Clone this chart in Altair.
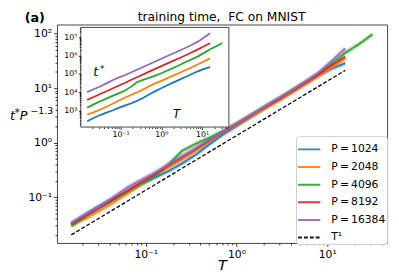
import altair as alt
import pandas as pd

# ---------------- data ----------------
T = [0.0151, 0.0224, 0.0316, 0.0447, 0.0631, 0.0891, 0.126, 0.178, 0.251, 0.355,
     0.501, 0.708, 1.0, 1.41, 2.0, 2.82, 3.98, 5.62, 7.94, 11.2, 15.8]
T_green_extra = [22.4, 31.6]

P_values = [1024, 2048, 4096, 8192, 16384]
labels = ["P\u2009=\u20091024", "P\u2009=\u20092048", "P\u2009=\u20094096",
          "P\u2009=\u20098192", "P\u2009=\u200916384"]
colors = ["#1f77b4", "#ff7f0e", "#2ca02c", "#d62728", "#9467bd"]

# log10 of  t* P^-1.3  (main panel), one value per T
logy_1024 = [-1.49, -1.30, -1.15, -1.02, -0.90, -0.76, -0.64, -0.52, -0.38, -0.22,
             -0.03, 0.15, 0.31, 0.47, 0.63, 0.78, 0.93, 1.08, 1.23, 1.36, 1.46]
logy_2048 = [-1.51, -1.38, -1.24, -1.09, -0.93, -0.76, -0.60, -0.45, -0.31, -0.15,
             0.03, 0.18, 0.32, 0.47, 0.62, 0.76, 0.91, 1.06, 1.22, 1.38, 1.55]
logy_4096 = [-1.53, -1.34, -1.18, -1.04, -0.89, -0.75, -0.61, -0.40, -0.15, -0.02,
             0.09, 0.21, 0.34, 0.49, 0.64, 0.79, 0.95, 1.10, 1.26, 1.45, 1.65, 1.81, 1.99]
logy_8192 = [-1.50, -1.33, -1.18, -1.03, -0.88, -0.73, -0.58, -0.42, -0.27, -0.12,
             0.04, 0.19, 0.34, 0.49, 0.64, 0.78, 0.93, 1.09, 1.25, 1.42, 1.58]
logy_16384 = [-1.47, -1.30, -1.16, -0.99, -0.82, -0.68, -0.55, -0.40, -0.25, -0.10,
              0.05, 0.20, 0.35, 0.50, 0.65, 0.80, 0.95, 1.11, 1.28, 1.50, 1.73]
series_logy = [logy_1024, logy_2048, logy_4096, logy_8192, logy_16384]

exponent = 1.3
dash_label = "T\u00b9"
dash_T = [0.0151, 15.8]
dash_y = [0.0204, 21.3]

# ---------------- tables ----------------
main_rows, inset_rows = [], []
for P, lab, col, ly in zip(P_values, labels, colors, series_logy):
    ts = T + (T_green_extra if len(ly) > len(T) else [])
    for t, v in zip(ts, ly):
        y = 10 ** v
        main_rows.append({"T": t, "y": y, "label": lab, "hex": col})
        inset_rows.append({"T": t, "tstar": y * P ** exponent, "label": lab, "hex": col})
main_df = pd.DataFrame(main_rows)
inset_df = pd.DataFrame(inset_rows)
dash_df = pd.DataFrame({"T": dash_T, "y": dash_y, "label": [dash_label] * 2})

# ---------------- axis helpers ----------------
LOG = "(log(datum.value)/LN10)"
MAJOR = f"abs({LOG} - round({LOG})) < 1e-6"
SUP = {-1: "\u207b\u00b9", 0: "\u2070", 1: "\u00b9", 2: "\u00b2", 3: "\u00b3",
       4: "\u2074", 5: "\u2075", 6: "\u2076", 7: "\u2077"}
lab_expr = ""
for e, s in SUP.items():
    lab_expr += f"round({LOG}) == {e} ? '10{s}' : "
lab_expr = f"{MAJOR} ? ({lab_expr}'') : ''"


def log_values(lo, hi):
    vals = []
    for d in range(-3, 9):
        for m in range(1, 10):
            v = float(f"{m}e{d}")
            if lo <= v <= hi:
                vals.append(v)
    return vals


def make_axis(values, fs, big, small, pad, orient, offset=0, z=0):
    return alt.Axis(values=values, labelExpr=lab_expr, title=None, domain=False, grid=False,
                    orient=orient, offset=offset, zindex=z,
                    tickSize={"condition": {"test": MAJOR, "value": big}, "value": small},
                    tickColor="black", tickWidth=0.8, labelColor="black",
                    labelFont="DejaVu Sans", labelFontSize=fs, labelPadding=pad,
                    labelFlush=False, labelOverlap=False, labelBound=False)


W, H = 337, 223
x_dom = [0.0105, 45.7]
y_dom = [0.0145, 148]
xs = alt.Scale(type="log", domain=x_dom, nice=False)
ys = alt.Scale(type="log", domain=y_dom, nice=False)
ax_x = make_axis(log_values(*x_dom), 11, 3.5, 2, 2, "bottom")
ax_y = make_axis(log_values(*y_dom), 11, 3.5, 2, 2, "left")

legend = alt.Legend(orient="none", legendX=244, legendY=114, title=None,
                    symbolType="stroke", symbolSize=520, symbolStrokeWidth=2,
                    labelFont="DejaVu Sans", labelFontSize=11, labelColor="black",
                    labelOffset=10, rowPadding=-2.3, padding=1,
                    strokeColor="#cccccc", fillColor="white", cornerRadius=3)
dom_all = labels + [dash_label]
color_scale = alt.Scale(domain=dom_all, range=colors + ["black"])
dash_scale = alt.Scale(domain=dom_all, range=[[1, 0]] * 5 + [[4, 2]])

X = alt.X("T:Q", scale=xs, axis=ax_x)
Y = alt.Y("y:Q", scale=ys, axis=ax_y)

under = alt.Chart(main_df).mark_line(strokeWidth=5, opacity=0.25).encode(
    x=X, y=Y, stroke=alt.Stroke("hex:N", scale=None), detail="label:N")
lines = alt.Chart(main_df).mark_line(strokeWidth=2, opacity=0.9).encode(
    x=X, y=Y,
    color=alt.Color("label:N", scale=color_scale, legend=legend),
    strokeDash=alt.StrokeDash("label:N", scale=dash_scale, legend=legend))
dashed = alt.Chart(dash_df).mark_line(strokeWidth=1.3).encode(
    x=X, y=Y,
    color=alt.Color("label:N", scale=color_scale, legend=legend),
    strokeDash=alt.StrokeDash("label:N", scale=dash_scale, legend=legend))
main = alt.layer(under, lines, dashed)

# ---------------- inset ----------------
ix0, ix1, iy0, iy1 = 24.3, 175.5, 3, 104.7
iy_dom = [129, 3.39e7]
inset_box = alt.Chart(pd.DataFrame({"a": [0]})).mark_rect(
    fill="white", stroke="#444444", strokeWidth=1).encode(
    x=alt.value(ix0), x2=alt.value(ix1), y=alt.value(iy0), y2=alt.value(iy1))
inset = alt.Chart(inset_df).mark_line(strokeWidth=1.8).encode(
    x=alt.X("T:Q", scale=alt.Scale(type="log", domain=x_dom, range=[ix0, ix1], nice=False),
            axis=make_axis(log_values(*x_dom), 8, 2.5, 1.5, 1.5, "bottom", -(H - iy1), 1)),
    y=alt.Y("tstar:Q", scale=alt.Scale(type="log", domain=iy_dom, range=[iy1, iy0], nice=False),
            axis=make_axis(log_values(*iy_dom), 8, 2.5, 1.5, 1.5, "left", -ix0, 1)),
    stroke=alt.Stroke("hex:N", scale=None),
    detail="label:N")

# ---------------- text ----------------
one = pd.DataFrame({"a": [0]})


def txt(s, x, y, size, style="normal", weight="normal", align="left"):
    return alt.Chart(one).mark_text(text=s, font="DejaVu Sans", fontSize=size, fontStyle=style,
                                    fontWeight=weight, align=align, baseline="alphabetic",
                                    color="black").encode(x=alt.value(x), y=alt.value(y))


texts = [
    txt("(a)", -33, -2.5, 13, weight="bold"),
    txt("training time,\u00a0\u00a0FC on MNIST", 168, -3.5, 12.5, align="center"),
    txt("t", -48, 98, 13, style="italic"),
    txt("*", -43, 93, 10),
    txt("P", -38, 98, 13, style="italic"),
    txt("\u22121.3", -27, 91, 9.5),
    txt("T", 169, 251, 15, style="italic", align="center"),
    txt("t", 37, 53, 13, style="italic"),
    txt("*", 44, 48, 9),
    txt("T", 122, 95, 12, style="italic", align="center"),
]

chart = alt.layer(main, inset_box, inset, *texts).resolve_scale(
    x="independent", y="independent").properties(
    width=W, height=H,
    autosize=alt.AutoSizeParams(type="none"),
    padding={"left": 50, "top": 14, "right": 4, "bottom": 35},
).configure_view(stroke="#444444", strokeWidth=1)

chart.save("out.html", embed_options={"renderer": "svg", "actions": False})
